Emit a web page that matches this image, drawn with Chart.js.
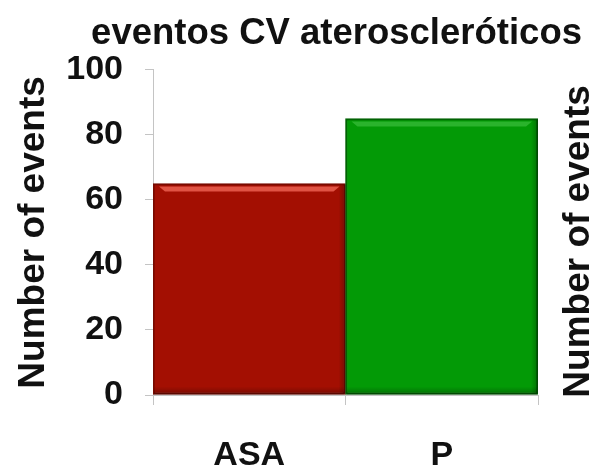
<!DOCTYPE html>
<html>
<head>
<meta charset="utf-8">
<script src="https://cdn.jsdelivr.net/npm/chart.js@4/dist/chart.umd.min.js"></script>
<style>
  html, body { margin: 0; padding: 0; background: #ffffff; }
  #wrap { width: 589px; height: 476px; position: relative; }
</style>
</head>
<body>
<div id="wrap"><canvas id="chart"></canvas></div>
<script>
// Atherosclerotic CV events per treatment arm
const categories = ['ASA', 'P'];
const eventCounts = [65, 85];
const yTickValues = [0, 20, 40, 60, 80, 100];
const chartTitle = 'eventos CV ateroscleróticos';
const axisTitle = 'Number of events';

const fillColors = ['#A30F02', '#039A06'];
const edgeColors = ['#780A00', '#016203'];
const shineColors = ['rgba(235,95,80,0.85)', 'rgba(90,210,90,0.45)'];

const FONT = '"Liberation Sans", Arial, Helvetica, sans-serif';
const AXIS_GRAY = '#c4c4c4';

// Soft bevel on each bar: a light strip under the top edge and darker bottom / right bands
const barBevel = {
  id: 'barBevel',
  afterDatasetsDraw(chart) {
    const ctx = chart.ctx;
    const meta = chart.getDatasetMeta(0);
    meta.data.forEach((bar, i) => {
      const p = bar.getProps(['x', 'y', 'base', 'width'], true);
      const left = p.x - p.width / 2, right = p.x + p.width / 2;
      ctx.save();
      // dark band along the bottom
      let g = ctx.createLinearGradient(0, p.base - 8, 0, p.base);
      g.addColorStop(0, 'rgba(0,0,0,0)');
      g.addColorStop(1, 'rgba(0,0,0,0.28)');
      ctx.fillStyle = g;
      ctx.fillRect(left + 1, p.base - 8, p.width - 2, 8);
      // dark band along the right side
      g = ctx.createLinearGradient(right - 7, 0, right, 0);
      g.addColorStop(0, 'rgba(0,0,0,0)');
      g.addColorStop(1, 'rgba(0,0,0,0.28)');
      ctx.fillStyle = g;
      ctx.fillRect(right - 7, p.y + 1, 7, p.base - p.y - 2);
      // light strip just below the top
      ctx.fillStyle = shineColors[i];
      ctx.beginPath();
      ctx.moveTo(left + 6, p.y + 3);
      ctx.lineTo(right - 6, p.y + 3);
      ctx.lineTo(right - 12, p.y + 8);
      ctx.lineTo(left + 12, p.y + 8);
      ctx.closePath();
      ctx.fill();
      ctx.restore();
    });
  }
};

// Second axis caption on the right-hand side, reading bottom to top
const rightCaption = {
  id: 'rightCaption',
  afterDraw(chart) {
    const ctx = chart.ctx;
    const area = chart.chartArea;
    ctx.save();
    ctx.translate(area.right + 41, (area.top + area.bottom) / 2 + 9);
    ctx.rotate(-Math.PI / 2);
    ctx.font = 'bold 37px ' + FONT;
    ctx.fillStyle = '#111111';
    ctx.textAlign = 'center';
    ctx.textBaseline = 'middle';
    ctx.fillText(axisTitle, 0, 0);
    ctx.restore();
  }
};

new Chart(document.getElementById('chart'), {
  type: 'bar',
  data: {
    labels: categories,
    datasets: [{
      data: eventCounts,
      backgroundColor: fillColors,
      borderColor: edgeColors,
      borderWidth: 2,
      borderSkipped: false,
      categoryPercentage: 1.0,
      barPercentage: 1.0
    }]
  },
  options: {
    responsive: true,
    maintainAspectRatio: false,
    animation: false,
    events: [],
    layout: { padding: { left: 0, right: 7, top: 0, bottom: 0 } },
    plugins: {
      legend: { display: false },
      tooltip: { enabled: false },
      title: {
        display: true,
        text: chartTitle,
        align: 'end',
        color: '#111111',
        font: { family: FONT, size: 36.5, weight: 'bold', lineHeight: 1.2 },
        padding: { top: 12, bottom: 14 }
      }
    },
    scales: {
      x: {
        offset: true,
        grid: {
          display: true,
          offset: true,
          drawOnChartArea: false,
          drawTicks: true,
          tickLength: 10,
          color: AXIS_GRAY,
          lineWidth: 1
        },
        border: { display: true, color: AXIS_GRAY, width: 1 },
        ticks: {
          color: '#111111',
          padding: 30,
          font: { family: FONT, size: 34, weight: 'bold' }
        },
        afterFit(scale) { scale.height = 81; }
      },
      y: {
        min: 0,
        max: 100,
        afterBuildTicks(scale) { scale.ticks = yTickValues.map(v => ({ value: v })); },
        grid: {
          display: true,
          drawOnChartArea: false,
          drawTicks: true,
          tickLength: 8,
          color: AXIS_GRAY,
          lineWidth: 1
        },
        border: { display: true, color: AXIS_GRAY, width: 1 },
        ticks: {
          color: '#111111',
          padding: 22,
          font: { family: FONT, size: 34, weight: 'bold' }
        },
        title: {
          display: true,
          text: axisTitle,
          color: '#111111',
          font: { family: FONT, size: 37, weight: 'bold', lineHeight: 1.2 },
          padding: { top: 12, bottom: 4 }
        },
        afterFit(scale) { scale.width = 153; }
      },
      // empty right-hand axis that reserves room for the right caption
      yRight: {
        position: 'right',
        min: 0,
        max: 100,
        grid: { display: false },
        border: { display: false },
        ticks: { display: false },
        afterFit(scale) { scale.width = 44; }
      }
    }
  },
  plugins: [barBevel, rightCaption]
});
</script>
</body>
</html>
